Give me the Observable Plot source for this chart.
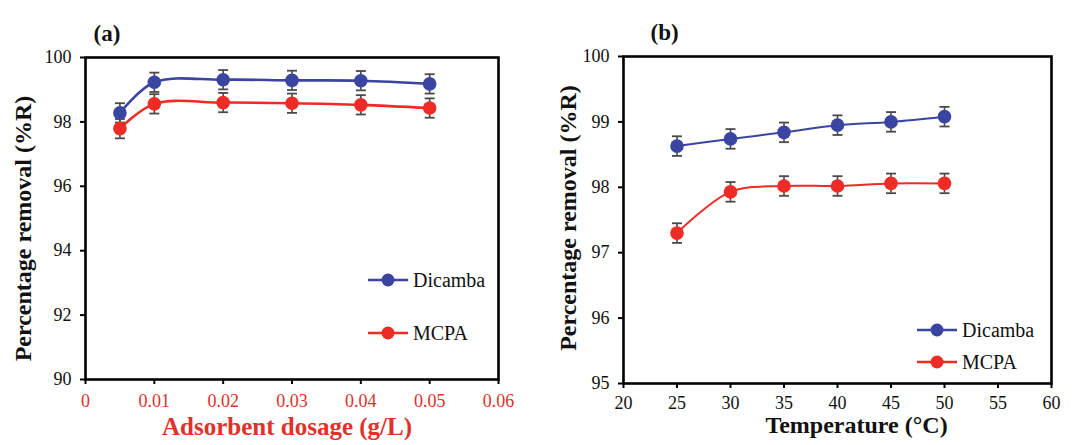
<!DOCTYPE html>
<html>
<head>
<meta charset="utf-8">
<script src="https://cdn.jsdelivr.net/npm/d3@7"></script>
<script src="https://cdn.jsdelivr.net/npm/@observablehq/plot@0.6"></script>
<style>
  html, body { margin: 0; padding: 0; background: #fff; }
  #wrap { position: relative; width: 1075px; height: 445px; overflow: hidden; font-family: "Liberation Serif", "Times New Roman", serif; }
  #wrap svg text { font-family: "Liberation Serif", "Times New Roman", serif !important; font-variant-numeric: normal !important; }
  .panel { position: absolute; top: 0; }
  .legend { position: absolute; font-family: "Liberation Serif", serif; font-size: 20px; color: #111; }
  .legend .row { position: absolute; white-space: nowrap; display: flex; align-items: center; }
</style>
</head>
<body>
<div id="wrap"></div>
<script>
// ---- Panel (a): adsorbent dosage ----
const dosage = [0.005, 0.01, 0.02, 0.03, 0.04, 0.05];
const dicambaDosage = [98.28, 99.23, 99.31, 99.29, 99.28, 99.18];
const mcpaDosage = [97.79, 98.56, 98.60, 98.58, 98.53, 98.43];
const dicambaDosageErr = [0.3, 0.3, 0.3, 0.3, 0.3, 0.3];
const mcpaDosageErr = [0.3, 0.3, 0.3, 0.3, 0.3, 0.3];
const dosageTicks = [0, 0.01, 0.02, 0.03, 0.04, 0.05, 0.06];
const dosageYTicks = [90, 92, 94, 96, 98, 100];

// ---- Panel (b): temperature ----
const temperature = [25, 30, 35, 40, 45, 50];
const dicambaTemp = [98.63, 98.74, 98.84, 98.95, 99.00, 99.08];
const mcpaTemp = [97.30, 97.93, 98.02, 98.02, 98.06, 98.06];
const dicambaTempErr = [0.15, 0.15, 0.15, 0.15, 0.15, 0.15];
const mcpaTempErr = [0.15, 0.15, 0.15, 0.15, 0.15, 0.15];
const tempTicks = [20, 25, 30, 35, 40, 45, 50, 55, 60];
const tempYTicks = [95, 96, 97, 98, 99, 100];

const seriesNames = ["Dicamba", "MCPA"];
const BLUE = "#3a45a2";
const RED = "#ee2b25";
const ERR = "#4a4a4a";
const FONT = "Liberation Serif, Times New Roman, serif";

function rows(xs, ys, es, series) {
  return xs.map((x, i) => ({x, y: ys[i], e: es[i], series}));
}

// horizontal cap symbol for error bars
const capSymbol = { draw(ctx, size) { const w = 5; ctx.moveTo(-w, 0); ctx.lineTo(w, 0); } };

function panel(o) {
  const data = [
    ...rows(o.xs, o.s1, o.e1, seriesNames[0]),
    ...rows(o.xs, o.s2, o.e2, seriesNames[1])
  ];
  const colorOf = s => s === seriesNames[0] ? BLUE : RED;
  return Plot.plot({
    width: o.width, height: 445,
    marginLeft: o.m[0], marginRight: o.m[1], marginTop: o.m[2], marginBottom: o.m[3],
    style: {fontFamily: FONT, fontSize: "18px", background: "white", overflow: "visible"},
    x: {domain: o.xDomain, label: null},
    y: {domain: o.yDomain, label: null},
    marks: [
      Plot.axisX({ticks: o.xTicks, tickFormat: o.xFmt, tickSize: 5, tickPadding: o.xPad, fontSize: 18, fontFamily: FONT, fill: o.xColor, stroke: "black", strokeWidth: 2, label: null}),
      Plot.axisY({ticks: o.yTicks, tickFormat: d => String(d), tickSize: 5, tickPadding: 9, fontSize: 18, fontFamily: FONT, fill: "#111", stroke: "black", strokeWidth: 2, label: null}),
      Plot.ruleX(data, {x: "x", y1: d => d.y - d.e, y2: d => d.y + d.e, stroke: ERR, strokeWidth: 1.6}),
      Plot.dot(data, {x: "x", y: d => d.y + d.e, symbol: capSymbol, stroke: ERR, strokeWidth: 1.8, fill: "none"}),
      Plot.dot(data, {x: "x", y: d => d.y - d.e, symbol: capSymbol, stroke: ERR, strokeWidth: 1.8, fill: "none"}),
      Plot.line(data, {x: "x", y: "y", z: "series", stroke: d => colorOf(d.series), strokeWidth: o.lw, curve: "catmull-rom"}),
      Plot.dot(data, {x: "x", y: "y", r: 6.8, fill: d => colorOf(d.series), stroke: "none"}),
      Plot.frame({stroke: "black", strokeWidth: 2.6}),
      Plot.text([o.title], {frameAnchor: "top-left", dx: o.titleDx, dy: -33, text: d => d, fontWeight: "bold", fontSize: 23, fontFamily: FONT, textAnchor: "start", fill: "#111"}),
      Plot.text([o.yLabel], {frameAnchor: "left", dx: o.yLabelDx, dy: o.yLabelDy, rotate: -90, text: d => d, textAnchor: "middle", fontWeight: "bold", fontSize: 24, fontFamily: FONT, fill: "#111"}),
      Plot.text([o.xLabel], {frameAnchor: "bottom", dx: o.xLabelDx, dy: o.xLabelDy, text: d => d, textAnchor: "middle", fontWeight: "bold", fontSize: o.xLabelSize, fontFamily: FONT, fill: o.xColor})
    ]
  });
}

const wrap = document.getElementById("wrap");

const pa = panel({
  width: 540, m: [85, 42, 57, 66],
  xs: dosage, s1: dicambaDosage, s2: mcpaDosage, e1: dicambaDosageErr, e2: mcpaDosageErr,
  xDomain: [0, 0.06], xTicks: dosageTicks, xFmt: d => d === 0 ? "0" : d.toFixed(2), xPad: 10,
  yDomain: [90, 100], yTicks: dosageYTicks,
  xColor: "#e0312b", lw: 2.6,
  title: "(a)", titleDx: 8,
  yLabel: "Percentage removal (%R)", yLabelDx: -62, yLabelDy: 10,
  xLabel: "Adsorbent dosage (g/L)", xLabelDx: -5, xLabelDy: 55, xLabelSize: 25
});
const da = document.createElement("div"); da.className = "panel"; da.style.left = "0px"; da.appendChild(pa); wrap.appendChild(da);

const pb = panel({
  width: 535, m: [83, 24, 56, 62],
  xs: temperature, s1: dicambaTemp, s2: mcpaTemp, e1: dicambaTempErr, e2: mcpaTempErr,
  xDomain: [20, 60], xTicks: tempTicks, xFmt: d => String(d), xPad: 8,
  yDomain: [95, 100], yTicks: tempYTicks,
  xColor: "#111", lw: 2,
  title: "(b)", titleDx: 27,
  yLabel: "Percentage removal (%R)", yLabelDx: -55, yLabelDy: -2,
  xLabel: "Temperature (°C)", xLabelDx: 19, xLabelDy: 49, xLabelSize: 24
});
const db = document.createElement("div"); db.className = "panel"; db.style.left = "540px"; db.appendChild(pb); wrap.appendChild(db);

// Legends
function legend(left, tops) {
  const lg = document.createElement("div"); lg.className = "legend"; lg.style.left = left + "px"; lg.style.top = "0px";
  seriesNames.forEach((name, i) => {
    const c = i === 0 ? BLUE : RED;
    const row = document.createElement("div"); row.className = "row"; row.style.top = (tops[i] - 12) + "px"; row.style.height = "24px";
    row.innerHTML = `<svg width="42" height="24"><line x1="0" y1="12" x2="40" y2="12" stroke="${c}" stroke-width="2.4"/><circle cx="20" cy="12" r="6.5" fill="${c}"/></svg><span style="margin-left:3px">${name}</span>`;
    lg.appendChild(row);
  });
  wrap.appendChild(lg);
}
legend(368, [280, 333]);
legend(917, [330, 362]);
</script>
</body>
</html>
